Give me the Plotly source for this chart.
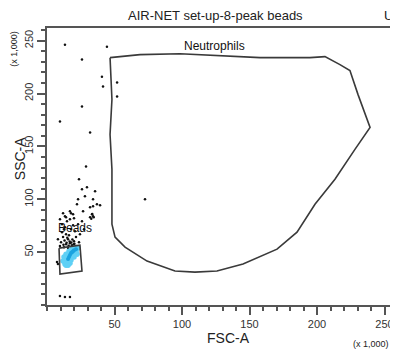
import plotly.graph_objects as go

# ---- data (values in thousands) ----
neut_x = [46.7, 68.9, 98.5, 135.6, 157.8, 194.8, 205.9, 217.0, 224.4, 230.4, 239.3, 228.1, 213.3,
          198.5, 185.2, 170.4, 145.2, 125.9, 109.6, 94.8, 74.1, 57.8, 50.4, 48.1, 48.1, 46.7, 48.1, 46.7]
neut_y = [234.0, 236.8, 237.7, 235.8, 234.0, 234.0, 234.9, 227.4, 221.7, 199.0, 167.9, 147.2, 118.9,
          95.3, 68.9, 52.8, 38.7, 32.1, 31.1, 32.1, 41.5, 54.7, 64.2, 76.4, 128.3, 161.3, 194.3, 234.0]

beads_x = [8.9, 24.4, 25.9, 9.6, 8.9]
beads_y = [53.8, 56.6, 32.1, 29.2, 53.8]

black_x = [13.3, 44.4, 25.9, 40.7, 41.5, 51.9, 51.9, 25.9, 9.6, 31.9, 28.9, 23.7, 25.9, 29.6, 35.6,
           28.1, 23.0, 72.6, 34.1, 31.9, 37.0, 39.3, 22.2, 34.1, 17.0, 13.3, 19.3, 26.7, 31.9, 33.3,
           34.1, 8.1, 7.4, 9.6, 13.3, 17.0,
           9.6, 11.1, 12.6, 14.1, 15.6, 17.0, 18.5, 20.0, 21.5, 11.9, 10.4, 14.1, 16.3, 17.8, 19.3,
           20.7, 14.8, 13.3, 11.1, 17.0, 23.0, 24.4, 9.6, 12.6, 15.6, 18.5, 21.5, 8.1, 14.1, 20.0,
           25.9, 27.4, 23.7, 11.9, 17.8, 33.5, 34.6, 32.8,
           13.0, 15.0, 16.8, 18.8, 20.3, 12.2, 14.5, 16.0, 18.0, 19.8]
black_y = [246.2, 244.3, 232.1, 216.0, 206.6, 210.4, 197.2, 187.7, 173.6, 163.2, 131.1, 118.9, 109.4,
           111.3, 107.5, 102.8, 100.0, 100.0, 100.0, 92.5, 95.3, 94.3, 95.3, 93.4, 88.7, 84.0, 85.8,
           88.7, 83.0, 85.8, 84.0, 38.7, 40.6, 8.5, 7.5, 7.5,
           81.1, 76.4, 71.7, 67.0, 62.3, 58.5, 56.6, 60.4, 64.2, 64.2, 59.4, 57.5, 66.0, 71.7, 75.5,
           69.8, 79.2, 73.6, 68.9, 81.1, 76.4, 67.0, 55.7, 54.7, 53.8, 52.8, 55.7, 62.3, 83.0, 82.1,
           79.2, 71.7, 59.4, 86.8, 86.8, 86.0, 83.0, 81.5,
           61.0, 63.5, 60.0, 62.0, 58.0, 57.0, 58.8, 56.0, 59.0, 57.5]

cyan_x = [11.9, 12.6, 13.3, 14.1, 14.8, 15.6, 16.3, 17.0, 17.8, 18.5, 19.3, 20.0, 20.7, 21.5, 22.2,
          23.0, 14.1, 15.6, 17.0, 18.5, 20.0, 12.6, 14.8, 16.3, 21.5, 19.3]
cyan_y = [41.5, 45.3, 38.7, 48.1, 43.4, 40.6, 50.9, 46.2, 42.5, 52.8, 49.1, 45.3, 53.8, 50.9, 48.1,
          53.8, 37.7, 37.7, 39.6, 47.2, 52.8, 41.5, 46.2, 48.1, 52.8, 51.9]

core_x = [15.6, 17.0, 18.5, 20.0, 16.3, 17.8, 19.3, 21.5]
core_y = [43.4, 47.2, 50.0, 51.9, 45.3, 49.1, 50.9, 52.8]

tick_vals = [50, 100, 150, 200, 250]
tick_text = ["50", "100", "150", "200", "250"]

FONT = "Liberation Sans, Arial, sans-serif"
LINE = "#3a3a3a"

fig = go.Figure()
fig.add_trace(go.Scatter(x=black_x, y=black_y, mode="markers",
                         marker=dict(color="#111111", size=2.5), hoverinfo="skip"))
fig.add_trace(go.Scatter(x=cyan_x, y=cyan_y, mode="markers",
                         marker=dict(color="#5fd0f5", size=5.5), hoverinfo="skip"))
fig.add_trace(go.Scatter(x=core_x, y=core_y, mode="markers",
                         marker=dict(color="#1aa3e0", size=4), hoverinfo="skip"))
fig.add_trace(go.Scatter(x=neut_x, y=neut_y, mode="lines",
                         line=dict(color=LINE, width=1.6), hoverinfo="skip"))
fig.add_trace(go.Scatter(x=beads_x, y=beads_y, mode="lines",
                         line=dict(color=LINE, width=1.6), hoverinfo="skip"))

axis_common = dict(
    showgrid=False, zeroline=False, showline=True, linecolor="#555555", linewidth=2,
    ticks="outside", ticklen=8, tickwidth=1.5, tickcolor="#555555",
    tickvals=tick_vals, ticktext=tick_text,
    tickfont=dict(family=FONT, size=11, color="#333333"),
    minor=dict(dtick=10, tick0=0, ticks="outside", ticklen=4, tickwidth=1.5, tickcolor="#555555"),
)

# page has an 8px body margin, so the figure is 8px smaller than the window
fig.update_layout(
    width=390, height=343,
    margin=dict(l=39, r=0, t=20, b=46),
    plot_bgcolor="white", paper_bgcolor="white",
    showlegend=False,
    xaxis=dict(range=[0, 260], mirror=True, **axis_common),
    yaxis=dict(range=[0, 262], mirror=False, tickangle=-90, **axis_common),
    font=dict(family=FONT),
)

ann = [
    dict(text="AIR-NET set-up-8-peak beads", x=0.479, y=1.045, size=13),
    dict(text="U", x=0.972, y=1.045, size=13),
    dict(text="FSC-A", x=0.516, y=-0.119, size=14),
    dict(text="(x 1,000)", x=0.924, y=-0.141, size=9),
    dict(text="SSC-A", x=-0.077, y=0.53, size=14, angle=-90),
    dict(text="(x 1,000)", x=-0.094, y=0.925, size=9, angle=-90),
]
for a in ann:
    fig.add_annotation(text=a["text"], x=a["x"], y=a["y"], xref="paper", yref="paper",
                       showarrow=False, xanchor="center", yanchor="middle",
                       textangle=a.get("angle", 0),
                       font=dict(family=FONT, size=a["size"], color="#222222"))

fig.add_annotation(text="Neutrophils", x=123.7, y=245, xref="x", yref="y", showarrow=False,
                   font=dict(family=FONT, size=12, color="#111111"))
fig.add_annotation(text="Beads", x=20.7, y=72.6, xref="x", yref="y", showarrow=False,
                   font=dict(family=FONT, size=12, color="#111111"))

fig.write_html("out.html")
